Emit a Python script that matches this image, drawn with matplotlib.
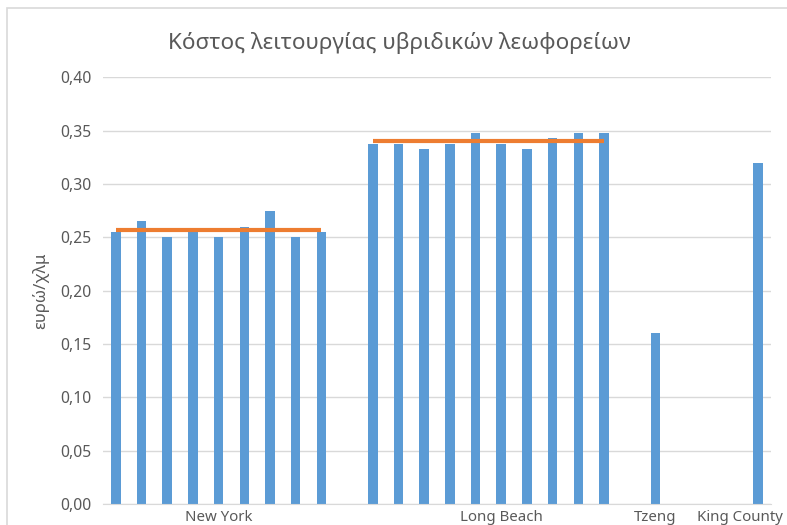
import matplotlib.pyplot as plt
import matplotlib.transforms as mtransforms
from matplotlib.patches import Rectangle
import numpy as np

plt.rcParams['font.family'] = ['Noto Sans', 'DejaVu Sans']

# --- data (ευρώ/χλμ) ---
groups = ['New York', 'Long Beach', 'Tzeng', 'King County']
ny_costs = [0.255, 0.265, 0.250, 0.255, 0.250, 0.260, 0.275, 0.250, 0.255]
lb_costs = [0.338, 0.338, 0.333, 0.338, 0.348, 0.338, 0.333, 0.343, 0.348, 0.348]
tzeng_costs = [0.16]
king_costs = [0.32]
group_costs = [ny_costs, lb_costs, tzeng_costs, king_costs]
show_mean = [True, True, False, False]

# slot where each group starts (empty slots in between, like the sheet)
group_starts = [0, 10, 21, 25]
n_slots = 26

bar_color = '#5B9BD5'
mean_color = '#ED7D31'
text_color = '#595959'
grid_color = '#D9D9D9'

fig = plt.figure(figsize=(7.87, 5.25), dpi=100)
ax = fig.add_axes([103 / 787, 21 / 525, 668 / 787, 426.5 / 525])

tick_pos = []
for start, costs, mean_on in zip(group_starts, group_costs, show_mean):
    x = start + np.arange(len(costs))
    ax.bar(x, costs, width=0.37, color=bar_color, zorder=2)
    if mean_on:
        m = np.mean(costs)
        ax.plot([x[0], x[-1]], [m, m], color=mean_color, lw=3, zorder=3,
                solid_capstyle='butt')
    tick_pos.append(start + len(costs) // 2)

ax.set_xlim(-0.5, n_slots - 0.5)
ax.set_ylim(0, 0.40)
yt = np.arange(0, 0.401, 0.05)
ax.set_yticks(yt)
ax.set_yticklabels([f'{v:.2f}'.replace('.', ',') for v in yt])
ax.set_xticks(tick_pos)
ax.set_xticklabels(groups)

ax.grid(axis='y', color=grid_color, lw=1, zorder=0)
for s in ['top', 'right', 'left']:
    ax.spines[s].set_visible(False)
ax.spines['bottom'].set_color(grid_color)
ax.tick_params(axis='x', length=0, pad=4, labelsize=10.8, labelcolor=text_color)
ax.tick_params(axis='y', length=0, pad=8, labelsize=11.3, labelcolor=text_color)

# last label is pushed left so it stays inside the chart area
last = ax.get_xticklabels()[-1]
last.set_transform(last.get_transform() +
                   mtransforms.ScaledTranslation(-18 / 100, 0, fig.dpi_scale_trans))

ax.set_ylabel('ευρώ/χλμ', fontsize=12, color=text_color, labelpad=8)
fig.text(0.5 * (170 + 628) / 787, 1 - 43 / 525,
         'Κόστος λειτουργίας υβριδικών λεωφορείων',
         ha='center', va='center', fontsize=16.2, color=text_color)

# chart frame
fig.patches.append(Rectangle((7 / 787, -0.1), 1.2, 1 - 8 / 525 + 0.1,
                             transform=fig.transFigure, fill=False,
                             edgecolor=grid_color, lw=1.2))

fig.savefig('out.png', dpi=100)
